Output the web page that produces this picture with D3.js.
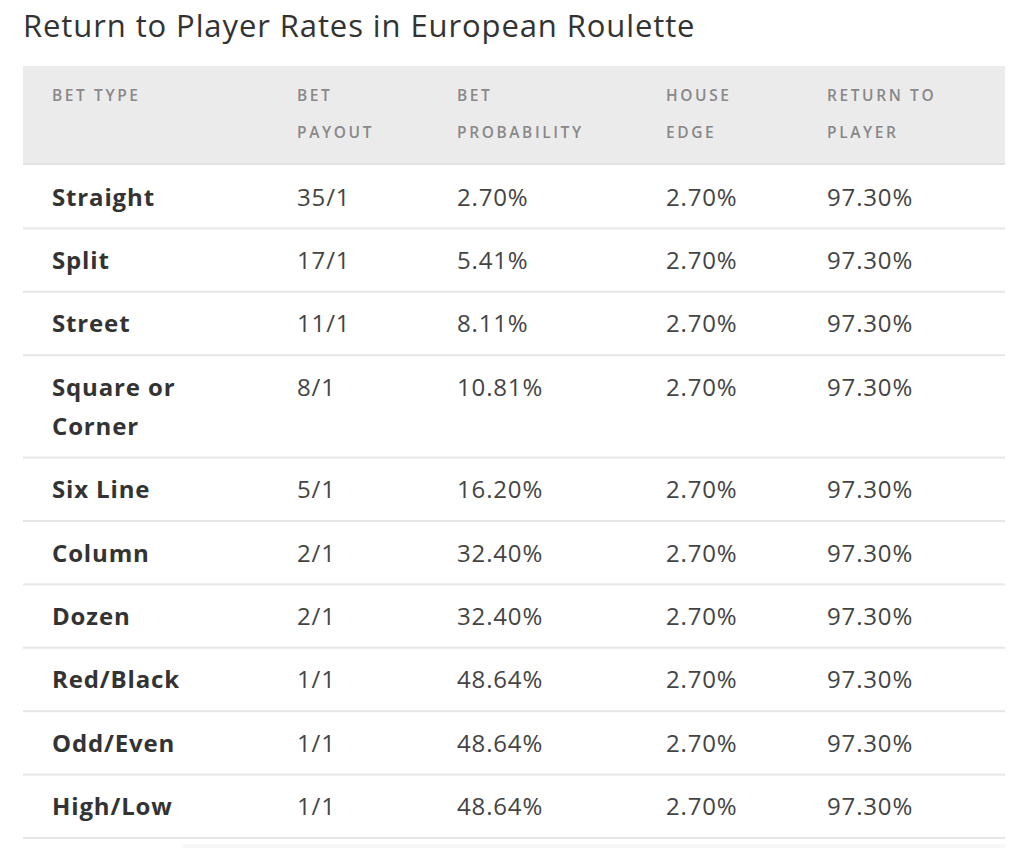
<!DOCTYPE html>
<html>
<head>
<meta charset="utf-8">
<script src="https://cdn.jsdelivr.net/npm/d3@7"></script>
<style>
  html, body { margin: 0; padding: 0; background: #fff; }
  svg { display: block; font-family: "Open Sans", sans-serif; }
</style>
</head>
<body>
<svg id="chart" width="1024" height="850"></svg>
<script>
// ---- Data ----
const title = "Return to Player Rates in European Roulette";
const headers = [["BET TYPE"], ["BET", "PAYOUT"], ["BET", "PROBABILITY"], ["HOUSE", "EDGE"], ["RETURN TO", "PLAYER"]];
const betTypes = ["Straight", "Split", "Street", "Square or Corner", "Six Line", "Column", "Dozen", "Red/Black", "Odd/Even", "High/Low"];
const payouts = ["35/1", "17/1", "11/1", "8/1", "5/1", "2/1", "2/1", "1/1", "1/1", "1/1"];
const probabilities = [2.70, 5.41, 8.11, 10.81, 16.20, 32.40, 32.40, 48.64, 48.64, 48.64];
const houseEdge = [2.70, 2.70, 2.70, 2.70, 2.70, 2.70, 2.70, 2.70, 2.70, 2.70];
const returnToPlayer = [97.30, 97.30, 97.30, 97.30, 97.30, 97.30, 97.30, 97.30, 97.30, 97.30];

// ---- Layout ----
const svg = d3.select("#chart");
const tableLeft = 23, tableRight = 1005;
const headerTop = 66, headerBottom = 165;
const colX = [52, 297, 457, 666, 827];
const firstColMax = 200;
const lineH = 39, rowPad = 32, singleRowH = 63.4;
const bodySize = 24, bodySpacing = 0.85;
const fmtPct = d => d3.format(".2f")(d) + "%";

svg.append("text")
  .attr("x", tableLeft).attr("y", 37)
  .attr("font-size", 31).attr("letter-spacing", 0.9).attr("fill", "#333")
  .text(title);

// header band
svg.append("rect")
  .attr("x", tableLeft).attr("y", headerTop)
  .attr("width", tableRight - tableLeft).attr("height", headerBottom - headerTop)
  .attr("fill", "#ebebec");
svg.append("rect")
  .attr("x", tableLeft).attr("y", headerBottom - 2)
  .attr("width", tableRight - tableLeft).attr("height", 2)
  .attr("fill", "#e1e1e3");

const hdr = svg.append("g").selectAll("text").data(headers).join("text")
  .attr("x", (d, i) => colX[i])
  .attr("font-size", 15.5).attr("font-weight", 600)
  .attr("letter-spacing", 2.6).attr("fill", "#888");
hdr.selectAll("tspan").data(d => d).join("tspan")
  .attr("x", function() { return d3.select(this.parentNode).attr("x"); })
  .attr("y", (d, i) => 101 + i * 37)
  .text(d => d);

// wrap first column text
const measure = svg.append("text").attr("font-size", bodySize).attr("font-weight", 700)
  .attr("letter-spacing", bodySpacing).attr("visibility", "hidden");
function wrap(str) {
  const words = str.split(" ");
  const lines = [];
  let cur = "";
  words.forEach(w => {
    const test = cur ? cur + " " + w : w;
    measure.text(test);
    if (cur && measure.node().getComputedTextLength() > firstColMax) { lines.push(cur); cur = w; }
    else cur = test;
  });
  lines.push(cur);
  return lines;
}
const rows = betTypes.map((b, i) => ({
  lines: wrap(b),
  cells: [payouts[i], fmtPct(probabilities[i]), fmtPct(houseEdge[i]), fmtPct(returnToPlayer[i])]
}));
measure.remove();

let y = headerBottom;
rows.forEach(r => {
  r.top = y;
  r.h = r.lines.length === 1 ? singleRowH : singleRowH + (r.lines.length - 1) * lineH;
  y += r.h;
  r.bottom = y;
});

const rowG = svg.append("g").selectAll("g").data(rows).join("g");
rowG.append("rect")
  .attr("x", tableLeft).attr("y", d => d.bottom - 1)
  .attr("width", tableRight - tableLeft).attr("height", 2)
  .attr("fill", "#e6e6e6");
const first = rowG.append("text")
  .attr("x", colX[0]).attr("font-size", bodySize).attr("font-weight", 700)
  .attr("letter-spacing", bodySpacing).attr("fill", "#333");
first.selectAll("tspan").data(d => d.lines.map((l, j) => ({l, y: d.top + rowPad + 8.5 + j * lineH}))).join("tspan")
  .attr("x", colX[0]).attr("y", d => d.y).text(d => d.l);
rowG.selectAll("text.cell").data(d => d.cells.map((c, j) => ({c, j, top: d.top}))).join("text")
  .attr("class", "cell")
  .attr("x", d => colX[d.j + 1]).attr("y", d => d.top + rowPad + 8.5)
  .attr("font-size", bodySize).attr("letter-spacing", bodySpacing).attr("fill", "#444")
  .text(d => d.c);

// faint trailing band below the table
svg.append("rect")
  .attr("x", 183).attr("y", y + 6)
  .attr("width", tableRight - 183).attr("height", 4)
  .attr("fill", "#f7f7f7");
</script>
</body>
</html>
